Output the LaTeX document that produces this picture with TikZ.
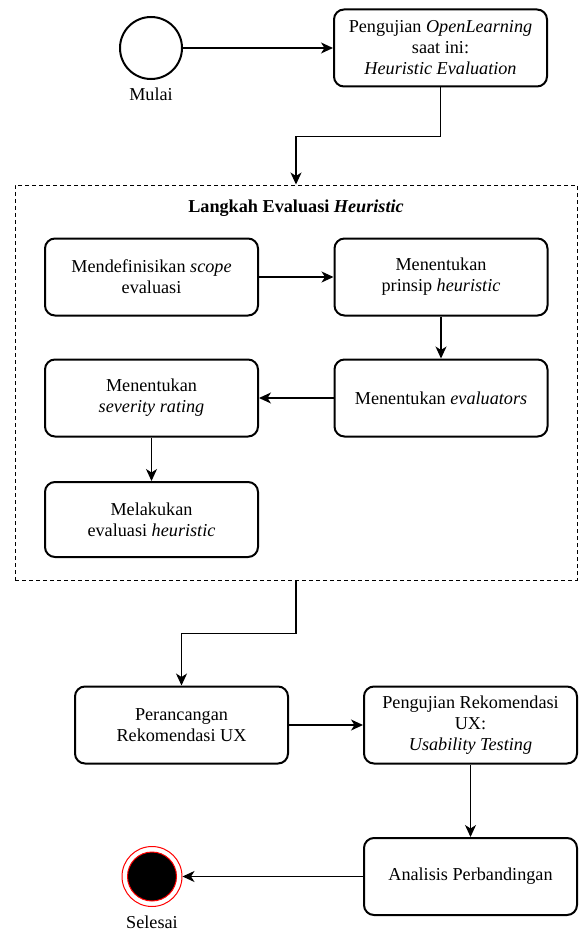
\documentclass[tikz,border=0pt]{standalone}
\usepackage{fontspec}
\setmainfont{Liberation Serif}
\usetikzlibrary{arrows.meta}
\begin{document}
\begin{tikzpicture}[x=1pt,y=-1pt,
    font=\fontsize{18.2}{21}\selectfont,
    box/.style={draw,line width=2pt,rounded corners=10pt,align=center,
      minimum width=213pt,minimum height=77pt,inner sep=2pt},
    frame/.style={draw,line width=1pt,dash pattern=on 4pt off 3pt,
      minimum width=562pt,minimum height=395pt,inner sep=0pt},
    arr/.style={-{Stealth[length=12pt,width=11pt,inset=3.5pt]},line width=1.3pt}]
  \useasboundingbox (0,0) rectangle (578,931);
  \draw
    (296,382.5) node[frame] (langkah){}
    (151,48) node[circle,draw,line width=2pt,minimum size=62pt,inner sep=0pt] (mulai){}
    (151,94) node (mulaitext){Mulai}
    (440.5,48) node[box] (uji){Pengujian \textit{OpenLearning}\\saat ini:\\\textit{Heuristic Evaluation}}
    (296,208) node (judul){\textbf{Langkah Evaluasi \textit{Heuristic}}}
    (151.5,277) node[box] (scope){Mendefinisikan \textit{scope}\\evaluasi}
    (441,277) node[box] (prinsip){Menentukan\\prinsip \textit{heuristic}}
    (441,398) node[box] (evaluator){Menentukan \textit{evaluators}}
    (151.5,398) node[box] (severity){Menentukan\\\textit{severity rating}}
    (151.5,519.5) node[box,minimum height=75pt] (lakukan){Melakukan\\evaluasi \textit{heuristic}}
    (181.5,725) node[box] (rancang){Perancangan\\Rekomendasi UX}
    (470.5,725) node[box] (ujirek){Pengujian Rekomendasi\\UX:\\\textit{Usability Testing}}
    (470.5,876.5) node[box] (analisis){Analisis Perbandingan}
    (152,876.5) node[circle,draw=red,line width=1pt,minimum size=60pt,inner sep=0pt] (selesai){}
    (152,876.5) node[circle,draw=red,fill=black,line width=1pt,minimum size=49pt,inner sep=0pt] (selesaidot){}
    (152,922) node (selesaitext){Selesai};
  \begin{scope}[arr]
    \draw (mulai) to (uji);
    \draw (uji.south) -- ++(0,49) -| (langkah.north);
    \draw (scope) to (prinsip);
    \draw (prinsip) to (evaluator);
    \draw (evaluator) to (severity);
    \draw (severity) to (lakukan);
    \draw (langkah.south) -- ++(0,53) -| (rancang.north);
    \draw (rancang) to (ujirek);
    \draw (ujirek) to (analisis);
    \draw (analisis) to (selesai);
  \end{scope}
\end{tikzpicture}
\end{document}
